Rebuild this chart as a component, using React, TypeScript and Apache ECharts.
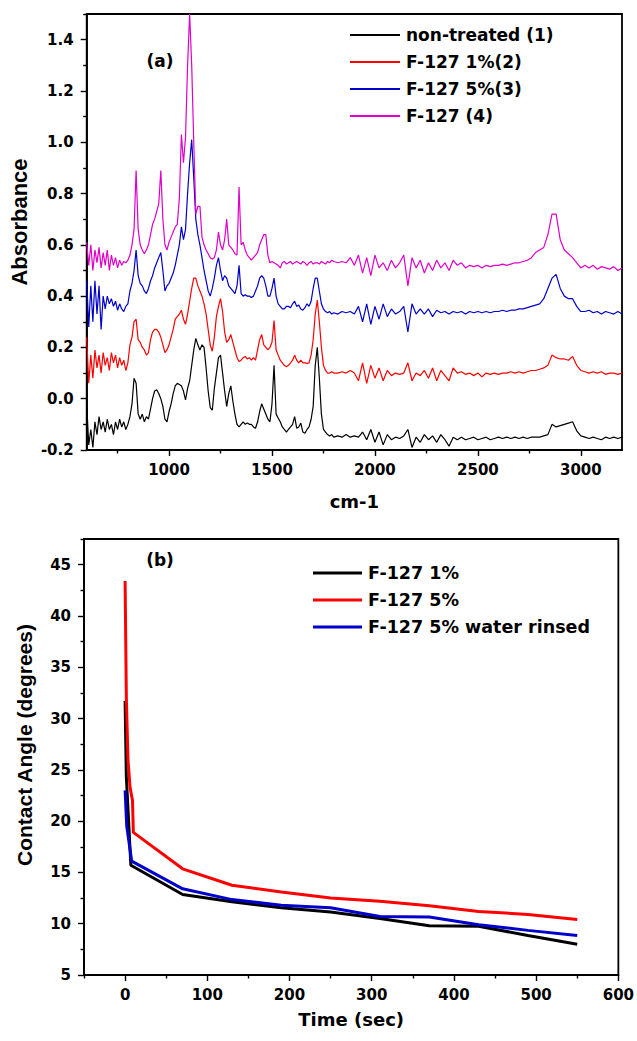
import React, { useEffect, useRef } from "react";
import * as echarts from "echarts";

// ---------- Panel (a): FTIR spectra ----------
const wavenumbers = [
  600, 610, 620, 630, 640, 650, 660, 670, 680, 690,
  700, 710, 720, 730, 740, 750, 760, 770, 780, 790,
  800, 810, 820, 830, 840, 850, 860, 870, 880, 890,
  900, 910, 920, 930, 940, 950, 960, 970, 980, 990,
  1000, 1010, 1020, 1030, 1040, 1050, 1060, 1070, 1080, 1090,
  1100, 1110, 1120, 1130, 1140, 1150, 1160, 1170, 1180, 1190,
  1200, 1210, 1220, 1230, 1240, 1250, 1260, 1270, 1280, 1290,
  1300, 1310, 1320, 1330, 1340, 1350, 1360, 1370, 1380, 1390,
  1400, 1410, 1420, 1430, 1440, 1450, 1460, 1470, 1480, 1490,
  1500, 1510, 1520, 1530, 1540, 1550, 1560, 1570, 1580, 1590,
  1600, 1610, 1620, 1630, 1640, 1650, 1660, 1670, 1680, 1690,
  1700, 1710, 1720, 1730, 1740, 1750, 1760, 1770, 1780, 1790,
  1800,
  1820, 1840, 1860, 1880, 1900, 1920, 1940, 1960, 1980, 2000,
  2020, 2040, 2060, 2080, 2100, 2120, 2140, 2160, 2180, 2200,
  2220, 2240, 2260, 2280, 2300, 2320, 2340, 2360, 2380, 2400,
  2420, 2440, 2460, 2480, 2500, 2520, 2540, 2560, 2580, 2600,
  2620, 2640, 2660, 2680, 2700, 2720, 2740, 2760, 2780, 2800,
  2820, 2840, 2860, 2880, 2900, 2920, 2940, 2960, 2980, 3000,
  3020, 3040, 3060, 3080, 3100, 3120, 3140, 3160, 3180, 3200,
];

const absNonTreated = [
  -0.02, -0.18, -0.12, -0.19, -0.09, -0.14, -0.07, -0.12, -0.09, -0.13,
  -0.08, -0.12, -0.10, -0.14, -0.09, -0.12, -0.08, -0.11, -0.09, -0.12,
  -0.10, -0.07, -0.02, 0.08, 0.06, -0.06, -0.08, -0.06, -0.09, -0.07,
  -0.08, -0.04, 0.0, 0.03, 0.035, 0.02, 0.0, -0.03, -0.08, -0.09,
  -0.05, -0.02, 0.02, 0.05, 0.06, 0.055, 0.05, 0.03, -0.005, 0.04,
  0.07, 0.13, 0.19, 0.235, 0.21, 0.19, 0.21, 0.20, 0.12, 0.03,
  -0.035, -0.045, 0.04, 0.10, 0.16, 0.17, 0.10, 0.03, -0.03, 0.02,
  0.05, -0.01, -0.06, -0.10, -0.11, -0.10, -0.09, -0.10, -0.095, -0.10,
  -0.10, -0.11, -0.115, -0.09, -0.05, -0.02, -0.04, -0.06, -0.08, -0.09,
  -0.02, 0.13, -0.06, -0.075, -0.09, -0.11, -0.12, -0.13, -0.12, -0.11,
  -0.10, -0.07, -0.115, -0.11, -0.095, -0.13, -0.135, -0.12, -0.11, -0.08,
  -0.03, 0.13, 0.20, 0.08, -0.06, -0.12, -0.13, -0.14, -0.145, -0.14,
  -0.15,
  -0.145, -0.15, -0.14, -0.15, -0.145, -0.15, -0.13, -0.16, -0.12, -0.17,
  -0.13, -0.18, -0.14, -0.16, -0.15, -0.155, -0.145, -0.12, -0.19, -0.15,
  -0.17, -0.14, -0.16, -0.145, -0.17, -0.14, -0.16, -0.185, -0.15, -0.16,
  -0.15, -0.16, -0.155, -0.15, -0.16, -0.155, -0.15, -0.16, -0.155, -0.15,
  -0.155, -0.15, -0.155, -0.15, -0.155, -0.15, -0.155, -0.15, -0.15, -0.15,
  -0.145, -0.14, -0.10, -0.11, -0.105, -0.10, -0.095, -0.09, -0.125, -0.145,
  -0.15, -0.155, -0.15, -0.155, -0.16, -0.15, -0.155, -0.15, -0.155, -0.15,
];

const absF127_1 = [
  0.24, 0.06, 0.17, 0.08, 0.19, 0.12, 0.17, 0.10, 0.18, 0.13,
  0.16, 0.11, 0.18, 0.14, 0.17, 0.12, 0.16, 0.13, 0.15, 0.11,
  0.14, 0.21, 0.24, 0.30, 0.31, 0.23, 0.22, 0.20, 0.19, 0.17,
  0.18, 0.23, 0.26, 0.27, 0.27, 0.26, 0.24, 0.21, 0.18, 0.19,
  0.21, 0.24, 0.27, 0.31, 0.32, 0.33, 0.345, 0.31, 0.29, 0.33,
  0.38, 0.43, 0.47, 0.47, 0.44, 0.42, 0.40, 0.37, 0.33, 0.27,
  0.21, 0.185, 0.24, 0.32, 0.36, 0.39, 0.34, 0.26, 0.22, 0.23,
  0.25, 0.22, 0.19, 0.16, 0.145, 0.15, 0.16, 0.165, 0.155, 0.16,
  0.15, 0.16, 0.15, 0.19, 0.23, 0.25, 0.21, 0.20, 0.19, 0.20,
  0.22, 0.305, 0.19, 0.17, 0.15, 0.14, 0.13, 0.125, 0.13, 0.14,
  0.15, 0.17, 0.15, 0.14, 0.15, 0.14, 0.14, 0.138, 0.14, 0.17,
  0.23, 0.33, 0.385, 0.30, 0.20, 0.13, 0.11, 0.10, 0.10, 0.105,
  0.10,
  0.10, 0.105, 0.10, 0.11, 0.10, 0.07, 0.14, 0.06, 0.13, 0.08,
  0.12, 0.07, 0.11, 0.09, 0.10, 0.095, 0.10, 0.14, 0.07, 0.10,
  0.09, 0.11, 0.08, 0.12, 0.07, 0.11, 0.09, 0.07, 0.12, 0.10,
  0.105, 0.095, 0.10, 0.09, 0.10, 0.085, 0.10, 0.095, 0.10, 0.095,
  0.10, 0.10, 0.105, 0.10, 0.105, 0.10, 0.105, 0.11, 0.11, 0.115,
  0.12, 0.13, 0.17, 0.16, 0.155, 0.155, 0.15, 0.165, 0.13, 0.11,
  0.105, 0.10, 0.105, 0.10, 0.105, 0.095, 0.10, 0.10, 0.095, 0.10,
];

const absF127_5 = [
  0.46, 0.28, 0.44, 0.30, 0.46, 0.33, 0.44, 0.27, 0.40, 0.35,
  0.40, 0.37, 0.39, 0.36, 0.38, 0.345, 0.37, 0.35, 0.34, 0.36,
  0.37, 0.42, 0.45, 0.50, 0.58, 0.48, 0.45, 0.44, 0.42, 0.41,
  0.43, 0.46, 0.48, 0.51, 0.53, 0.55, 0.57, 0.50, 0.42, 0.44,
  0.45, 0.47, 0.49, 0.52, 0.56, 0.60, 0.67, 0.62, 0.66, 0.80,
  0.92, 1.01, 0.86, 0.70, 0.64, 0.60, 0.55, 0.50, 0.46, 0.42,
  0.40, 0.43, 0.47, 0.52, 0.55, 0.50, 0.46, 0.48, 0.47, 0.44,
  0.43, 0.42, 0.41, 0.44, 0.52, 0.41, 0.40, 0.405, 0.40, 0.40,
  0.395, 0.40, 0.42, 0.44, 0.47, 0.48, 0.47, 0.44, 0.40, 0.40,
  0.43, 0.47, 0.40, 0.37, 0.36, 0.35, 0.35, 0.36, 0.36, 0.355,
  0.37, 0.38, 0.36, 0.365, 0.35, 0.345, 0.355, 0.37, 0.36, 0.38,
  0.43, 0.47, 0.47, 0.42, 0.37, 0.35, 0.34, 0.335, 0.34, 0.33,
  0.335,
  0.33, 0.34, 0.335, 0.34, 0.33, 0.36, 0.30, 0.37, 0.29, 0.36,
  0.31, 0.37, 0.32, 0.35, 0.33, 0.34, 0.36, 0.26, 0.37, 0.33,
  0.35, 0.33, 0.35, 0.32, 0.345, 0.335, 0.34, 0.33, 0.34, 0.335,
  0.34, 0.33, 0.34, 0.335, 0.34, 0.335, 0.34, 0.335, 0.34, 0.34,
  0.345, 0.34, 0.345, 0.345, 0.35, 0.35, 0.355, 0.36, 0.365, 0.37,
  0.39, 0.43, 0.47, 0.485, 0.43, 0.40, 0.39, 0.39, 0.36, 0.34,
  0.34, 0.345, 0.335, 0.34, 0.33, 0.34, 0.335, 0.33, 0.34, 0.33,
];

const absF127 = [
  0.61, 0.52, 0.60, 0.50, 0.58, 0.53, 0.59, 0.51, 0.57, 0.52,
  0.58, 0.50, 0.56, 0.52, 0.55, 0.51, 0.54, 0.52, 0.535, 0.53,
  0.54, 0.56, 0.60, 0.66, 0.89, 0.66, 0.60, 0.58, 0.565, 0.58,
  0.60, 0.64, 0.68, 0.70, 0.73, 0.76, 0.89, 0.70, 0.60, 0.58,
  0.61, 0.63, 0.65, 0.67, 0.68, 0.78, 1.03, 0.92, 1.02, 1.30,
  1.50, 1.30, 1.00, 0.72, 0.75, 0.75, 0.63, 0.60, 0.58, 0.565,
  0.55, 0.545, 0.55, 0.58, 0.65, 0.60, 0.58, 0.62, 0.70, 0.60,
  0.59, 0.58, 0.565, 0.56, 0.825, 0.60, 0.61, 0.58, 0.56, 0.55,
  0.54, 0.55, 0.56, 0.57, 0.60, 0.62, 0.64, 0.64, 0.56, 0.53,
  0.535, 0.53, 0.525, 0.52, 0.51, 0.53, 0.535, 0.525, 0.53, 0.535,
  0.525, 0.53, 0.535, 0.53, 0.525, 0.535, 0.53, 0.52, 0.53, 0.535,
  0.525, 0.53, 0.53, 0.525, 0.535, 0.53, 0.525, 0.535, 0.53, 0.54,
  0.535,
  0.53, 0.535, 0.53, 0.55, 0.52, 0.56, 0.49, 0.55, 0.48, 0.56,
  0.51, 0.53, 0.50, 0.54, 0.51, 0.53, 0.56, 0.44, 0.55, 0.51,
  0.54, 0.49, 0.53, 0.50, 0.54, 0.51, 0.53, 0.50, 0.54, 0.52,
  0.53, 0.51, 0.52, 0.515, 0.52, 0.51, 0.52, 0.515, 0.52, 0.52,
  0.525, 0.52, 0.525, 0.53, 0.53, 0.535, 0.54, 0.55, 0.57, 0.58,
  0.59, 0.64, 0.72, 0.72, 0.62, 0.58, 0.565, 0.55, 0.53, 0.51,
  0.52, 0.51, 0.52, 0.505, 0.515, 0.51, 0.505, 0.515, 0.50, 0.51,
];

const spectraNames = ["non-treated (1)", "F-127 1%(2)", "F-127 5%(3)", "F-127 (4)"];
const spectraColors = ["#000000", "#ff0000", "#0000cc", "#e000c8"];
const absXLabels = [1000, 1500, 2000, 2500, 3000];
const absXMinor = [750, 1250, 1750, 2250, 2750];
const absYLabels = [-0.2, 0.0, 0.2, 0.4, 0.6, 0.8, 1.0, 1.2, 1.4];
const absYMinor = [-0.1, 0.1, 0.3, 0.5, 0.7, 0.9, 1.1, 1.3, 1.5];

// ---------- Panel (b): contact angle ----------
const timeF127_1 = [0, 1.5, 7, 70, 130, 190, 250, 310, 370, 430, 490, 550];
const angleF127_1 = [31.7, 24.3, 15.7, 12.85, 12.15, 11.55, 11.15, 10.5, 9.8, 9.75, 8.85, 8.0];
const timeF127_5 = [0, 1.5, 3.5, 6, 9, 10, 70, 130, 190, 250, 310, 370, 430, 490, 550];
const angleF127_5 = [43.4, 32, 26, 23.3, 22, 18.9, 15.35, 13.75, 13.1, 12.5, 12.2, 11.75, 11.2, 10.9, 10.4];
const timeF127_5r = [0, 2, 8, 70, 130, 190, 250, 310, 370, 430, 490, 550];
const angleF127_5r = [23.0, 19.5, 16.1, 13.4, 12.35, 11.8, 11.55, 10.7, 10.65, 9.9, 9.35, 8.85];

const angleNames = ["F-127 1%", "F-127 5%", "F-127 5% water rinsed"];
const angleColors = ["#000000", "#ff0000", "#0000cc"];
const timeLabels = [0, 100, 200, 300, 400, 500, 600];
const timeMinor = [-50, 50, 150, 250, 350, 450, 550];
const angleLabels = [5, 10, 15, 20, 25, 30, 35, 40, 45];
const angleMinor = [7.5, 12.5, 17.5, 22.5, 27.5, 32.5, 37.5, 42.5, 47.5];

const TICK_FONT = {
  fontFamily: "DejaVu Sans",
  fontWeight: "bold" as const,
  fontSize: 15,
  color: "#000",
};

function majorAxis(extra: any) {
  return {
    type: "value",
    splitLine: { show: false },
    axisLine: { show: true, onZero: false, lineStyle: { color: "#000", width: 1.8 } },
    ...extra,
  };
}

function minorAxis(gridIndex: number, min: number, max: number, pos: string, values: number[]) {
  return {
    type: "value",
    gridIndex,
    min,
    max,
    position: pos,
    splitLine: { show: false },
    axisLine: { show: false, onZero: false },
    axisLabel: { show: false },
    axisTick: {
      show: true,
      inside: false,
      length: 3.5,
      customValues: values,
      lineStyle: { color: "#000", width: 1.4 },
    },
  };
}

export default function App() {
  const ref = useRef<HTMLDivElement>(null);

  useEffect(() => {
    if (!ref.current) return;
    const chart = echarts.init(ref.current, undefined, { renderer: "svg" });

    const spectraSeries = [absNonTreated, absF127_1, absF127_5, absF127].map((arr, k) => ({
      name: spectraNames[k],
      type: "line",
      xAxisIndex: 0,
      yAxisIndex: 0,
      showSymbol: false,
      symbol: "none",
      data: wavenumbers.map((w, i) => [w, arr[i]]),
      lineStyle: { color: spectraColors[k], width: 1.2 },
      itemStyle: { color: spectraColors[k] },
    }));

    const angleTimes = [timeF127_1, timeF127_5, timeF127_5r];
    const angleVals = [angleF127_1, angleF127_5, angleF127_5r];
    const angleSeries = angleVals.map((arr, k) => ({
      name: angleNames[k],
      type: "line",
      xAxisIndex: 2,
      yAxisIndex: 2,
      showSymbol: false,
      symbol: "none",
      data: angleTimes[k].map((t, i) => [t, arr[i]]),
      lineStyle: { color: angleColors[k], width: 3 },
      itemStyle: { color: angleColors[k] },
    }));

    const plain = (v: number) => String(v);

    const option: any = {
      animation: false,
      backgroundColor: "#fff",
      grid: [
        { left: 85, top: 14, width: 537, height: 436, show: true, borderColor: "#000", borderWidth: 1.8 },
        { left: 84, top: 539, width: 537, height: 436, show: true, borderColor: "#000", borderWidth: 1.8 },
      ],
      xAxis: [
        majorAxis({
          gridIndex: 0,
          min: 600,
          max: 3200,
          position: "bottom",
          axisTick: { show: true, inside: false, length: 6, customValues: absXLabels, lineStyle: { color: "#000", width: 1.4 } },
          axisLabel: { show: true, customValues: absXLabels, margin: 12, formatter: plain, ...TICK_FONT },
          name: "cm-1",
          nameLocation: "middle",
          nameGap: 42,
          nameTextStyle: { fontFamily: "DejaVu Sans", fontWeight: "bold", fontSize: 18, color: "#000" },
        }),
        minorAxis(0, 600, 3200, "bottom", absXMinor),
        majorAxis({
          gridIndex: 1,
          min: -50,
          max: 600,
          position: "bottom",
          axisTick: { show: true, inside: false, length: 6, customValues: timeLabels, lineStyle: { color: "#000", width: 1.4 } },
          axisLabel: { show: true, customValues: timeLabels, margin: 12, formatter: plain, ...TICK_FONT },
          name: "Time (sec)",
          nameLocation: "middle",
          nameGap: 35,
          nameTextStyle: { fontFamily: "DejaVu Sans", fontWeight: "bold", fontSize: 18, color: "#000" },
        }),
        minorAxis(1, -50, 600, "bottom", timeMinor),
      ],
      yAxis: [
        majorAxis({
          gridIndex: 0,
          min: -0.2,
          max: 1.5,
          position: "left",
          axisTick: { show: true, inside: false, length: 6, customValues: absYLabels, lineStyle: { color: "#000", width: 1.4 } },
          axisLabel: {
            show: true,
            customValues: absYLabels,
            margin: 13,
            formatter: (v: number) => v.toFixed(1),
            ...TICK_FONT,
          },
          name: "Absorbance",
          nameLocation: "middle",
          nameGap: 49,
          nameTextStyle: {
            fontFamily: "Liberation Sans",
            fontWeight: "bold",
            fontSize: 22,
            color: "#000",
            padding: [0, 0, 0, 20],
          },
        }),
        minorAxis(0, -0.2, 1.5, "left", absYMinor),
        majorAxis({
          gridIndex: 1,
          min: 5,
          max: 47.5,
          position: "left",
          axisTick: { show: true, inside: false, length: 6, customValues: angleLabels, lineStyle: { color: "#000", width: 1.4 } },
          axisLabel: { show: true, customValues: angleLabels, margin: 13, formatter: plain, ...TICK_FONT },
          name: "Contact Angle (degrees)",
          nameLocation: "middle",
          nameGap: 49,
          nameTextStyle: {
            fontFamily: "Liberation Sans",
            fontWeight: "bold",
            fontSize: 21,
            color: "#000",
            padding: [0, 0, 0, 24],
          },
        }),
        minorAxis(1, 5, 47.5, "left", angleMinor),
      ],
      legend: [
        {
          data: spectraNames,
          orient: "vertical",
          left: 345,
          top: 20,
          itemWidth: 50,
          itemHeight: 2,
          itemGap: 7,
          icon: "rect",
          selectedMode: false,
          textStyle: {
            fontFamily: "DejaVu Sans",
            fontWeight: "bold",
            fontSize: 17,
            color: "#000",
            lineHeight: 20,
            padding: [0, 0, 0, 1],
          },
        },
        {
          data: angleNames,
          orient: "vertical",
          left: 308,
          top: 558,
          itemWidth: 49,
          itemHeight: 3,
          itemGap: 7,
          icon: "rect",
          selectedMode: false,
          textStyle: {
            fontFamily: "DejaVu Sans",
            fontWeight: "bold",
            fontSize: 17.5,
            color: "#000",
            lineHeight: 20,
            padding: [0, 0, 0, 1],
          },
        },
      ],
      graphic: [
        {
          type: "text",
          x: 160,
          y: 61,
          style: {
            text: "(a)",
            fontFamily: "DejaVu Sans",
            fontWeight: "bold",
            fontSize: 17,
            fill: "#000",
            align: "center",
            verticalAlign: "middle",
          },
        },
        {
          type: "text",
          x: 160,
          y: 560,
          style: {
            text: "(b)",
            fontFamily: "DejaVu Sans",
            fontWeight: "bold",
            fontSize: 17,
            fill: "#000",
            align: "center",
            verticalAlign: "middle",
          },
        },
      ],
      series: [...spectraSeries, ...angleSeries],
    };

    chart.setOption(option);
    return () => {
      chart.dispose();
    };
  }, []);

  return (
    <div
      ref={ref}
      style={{ position: "absolute", left: 0, top: 0, width: 637, height: 1041, background: "#fff" }}
    />
  );
}
